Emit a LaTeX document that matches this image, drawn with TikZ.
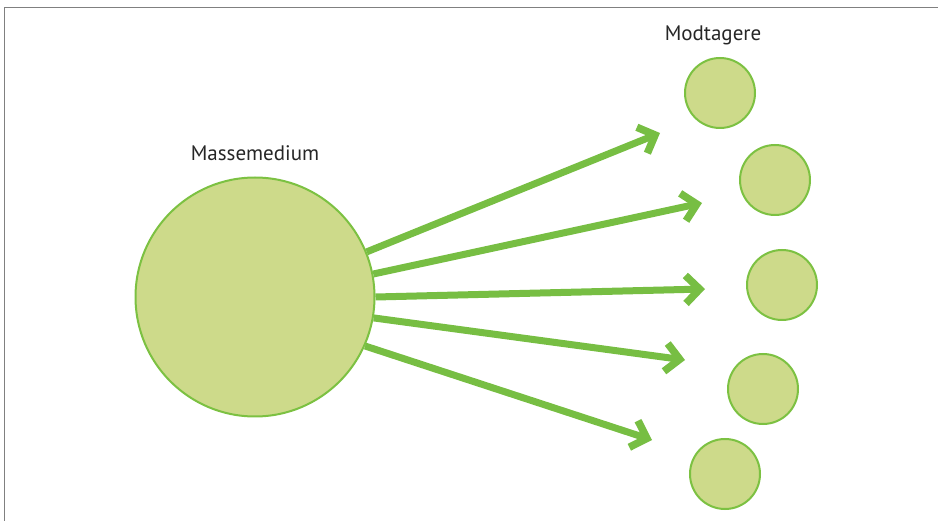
\documentclass[tikz,border=0pt]{standalone}
\usepackage{fontspec}
\setmainfont{PT Sans}
\usetikzlibrary{arrows.meta}
\definecolor{discfill}{RGB}{205,218,138}
\definecolor{discline}{RGB}{124,193,66}
\definecolor{flow}{RGB}{119,190,67}
\begin{document}
\begin{tikzpicture}[x=1pt,y=-1pt,
  disc/.style={circle,draw=discline,fill=discfill,line width=2pt,inner sep=0pt},
  beam/.style={draw=flow,line width=7pt,
    -{Straight Barb[length=14pt,width=28pt,line width=7.5pt,line cap=butt,line join=miter]}},
  caption/.style={font=\fontsize{21}{24}\selectfont,text=black!85}]
\useasboundingbox (0,0) rectangle (938,521);
% frame lines along the top and left edges
\draw[black!50,line width=1.5pt] (938,7.5) -- (4.5,7.5) -- (4.5,521);
% sender and receivers
\node[disc,minimum size=239pt] (src) at (255,297) {};
\node[disc,minimum size=70pt] (r1) at (720,93) {};
\node[disc,minimum size=70pt] (r2) at (775,180) {};
\node[disc,minimum size=70pt] (r3) at (782,285) {};
\node[disc,minimum size=70pt] (r4) at (763,389) {};
\node[disc,minimum size=70pt] (r5) at (725,474) {};
% labels
\node[caption] (lsrc) at (255,153) {Massemedium};
\node[caption] (lrec) at (713,35) {Modtagere};
% arrow end points in front of each receiver
\coordinate (t1) at (660,133);
\coordinate (t2) at (702,203);
\coordinate (t3) at (705,289);
\coordinate (t4) at (685,360);
\coordinate (t5) at (652,440);
\draw[beam] (src.22) -- (t1);
\draw[beam] (src.11) -- (t2);
\draw[beam] (src.0) -- (t3);
\draw[beam] (src.-10) -- (t4);
\draw[beam] (src.-24) -- (t5);
\end{tikzpicture}
\end{document}
